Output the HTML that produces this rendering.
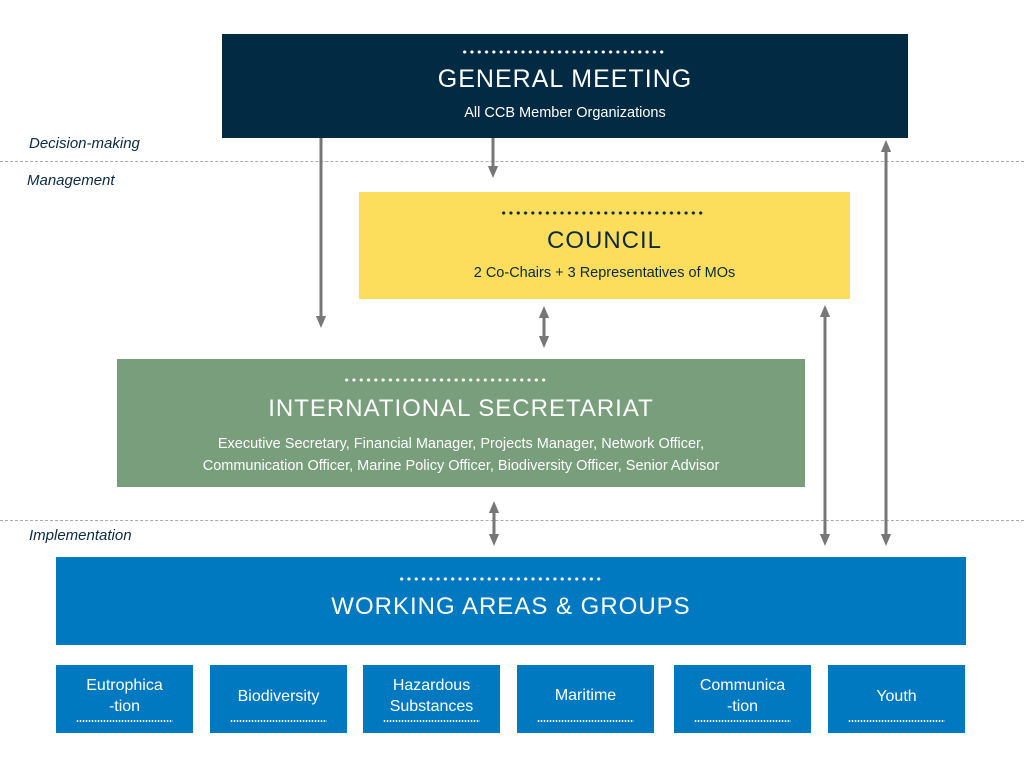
<!DOCTYPE html>
<html><head><meta charset="utf-8"><style>
body{margin:0;width:1024px;height:768px;background:#fff;position:relative;overflow:hidden;font-family:"Liberation Sans",sans-serif}
.b{position:absolute;text-align:center}
.t{position:absolute;left:0;right:0;text-align:center;letter-spacing:1px}
.s{position:absolute;left:0;right:0;text-align:center;font-size:14.5px}
.d{position:absolute;height:4px;background:radial-gradient(circle,currentColor 1.4px,transparent 1.8px) 0 0/7.3px 4px repeat-x}
.sm{position:absolute;top:665px;width:137px;height:68px;background:#0079c1;color:#fff;font-size:16px;line-height:21px;text-align:center}
.sm .ln{position:absolute;left:20px;right:20px;top:55px;height:2px;background:radial-gradient(circle,#fff 0.8px,transparent 1px) 0 0/3px 2px repeat-x}
.lab{position:absolute;font-style:italic;font-size:15px;color:#0a2a43}
.hl{position:absolute;left:0;width:1024px;border-top:1px dashed #aaa}
</style></head><body>
<div class="hl" style="top:161px"></div>
<div class="hl" style="top:520px"></div>
<div class="lab" style="left:29px;top:135px">Decision-making</div>
<div class="lab" style="left:27px;top:172px">Management</div>
<div class="lab" style="left:29px;top:527px">Implementation</div>

<div class="b" style="left:222px;top:34px;width:686px;height:104px;background:#022a43;color:#fff">
<div class="d" style="left:239px;top:16px;width:205px;color:#fff"></div>
<div class="t" style="top:31px;font-size:25px">GENERAL MEETING</div>
<div class="s" style="top:71px">All CCB Member Organizations</div></div>

<div class="b" style="left:359px;top:192px;width:491px;height:107px;background:#fddd5c;color:#0a2a43">
<div class="d" style="left:141px;top:19px;width:205px;color:#0a2a43"></div>
<div class="t" style="top:35px;font-size:24px">COUNCIL</div>
<div class="s" style="top:73px">2 Co-Chairs + 3 Representatives of MOs</div></div>

<div class="b" style="left:117px;top:359px;width:688px;height:128px;background:#789e7b;color:#fff">
<div class="d" style="left:226px;top:19px;width:205px;color:#fff"></div>
<div class="t" style="top:36px;font-size:24px">INTERNATIONAL SECRETARIAT</div>
<div class="s" style="top:74px;line-height:22px">Executive Secretary, Financial Manager, Projects Manager, Network Officer,<br>Communication Officer, Marine Policy Officer, Biodiversity Officer, Senior Advisor</div></div>

<div class="b" style="left:56px;top:557px;width:910px;height:88px;background:#0079c1;color:#fff">
<div class="d" style="left:342px;top:20px;width:205px;color:#fff"></div>
<div class="t" style="top:36px;font-size:24px">WORKING AREAS &amp; GROUPS</div></div>

<div class="sm" style="left:56px"><div style="margin-top:10px">Eutrophica<br>-tion</div><div class="ln"></div></div>
<div class="sm" style="left:210px"><div style="margin-top:21px">Biodiversity</div><div class="ln"></div></div>
<div class="sm" style="left:363px"><div style="margin-top:10px">Hazardous<br>Substances</div><div class="ln"></div></div>
<div class="sm" style="left:517px"><div style="margin-top:20px">Maritime</div><div class="ln"></div></div>
<div class="sm" style="left:674px"><div style="margin-top:10px">Communica<br>-tion</div><div class="ln"></div></div>
<div class="sm" style="left:828px"><div style="margin-top:21px">Youth</div><div class="ln"></div></div>

<svg width="1024" height="768" style="position:absolute;left:0;top:0">
<defs><marker id="a" markerWidth="4" markerHeight="4" refX="2" refY="2" orient="auto-start-reverse" markerUnits="strokeWidth"><path d="M0,0.3 L4,2 L0,3.7Z" fill="#777"/></marker></defs>
<g stroke="#777" stroke-width="3">
<line x1="321" y1="138" x2="321" y2="322" marker-end="url(#a)"/>
<line x1="493" y1="138" x2="493" y2="172" marker-end="url(#a)"/>
<line x1="544" y1="312" x2="544" y2="342" marker-start="url(#a)" marker-end="url(#a)"/>
<line x1="494" y1="507" x2="494" y2="540" marker-start="url(#a)" marker-end="url(#a)"/>
<line x1="825" y1="311" x2="825" y2="540" marker-start="url(#a)" marker-end="url(#a)"/>
<line x1="886" y1="146" x2="886" y2="540" marker-start="url(#a)" marker-end="url(#a)"/>
</g></svg>
</body></html>
